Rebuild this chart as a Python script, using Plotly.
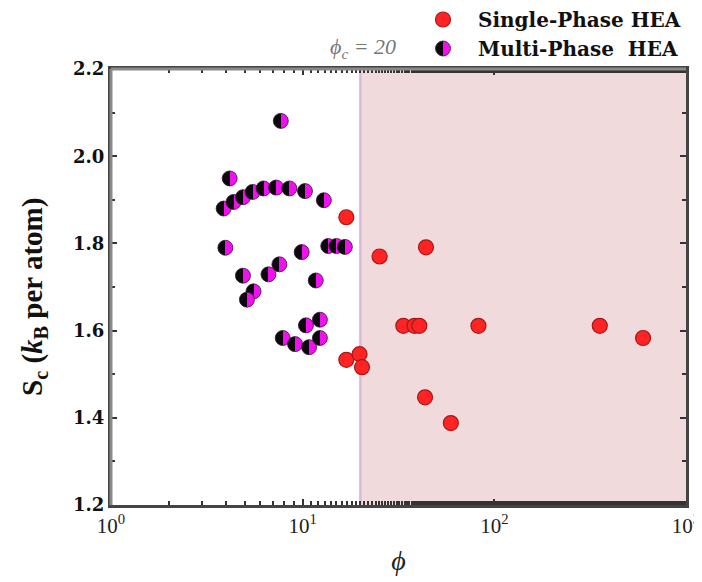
import plotly.graph_objects as go

# Multi-phase HEA
multi_phi = [7.69, 4.16, 3.87, 4.36, 4.88, 5.48, 6.25, 7.27, 8.52, 10.28, 12.9,
             3.95, 9.88, 13.6, 15.0, 16.6, 4.88, 7.56, 6.63, 11.7, 5.54, 5.12,
             12.3, 10.4, 7.87, 9.12, 10.8, 12.3]
multi_sc = [2.081, 1.949, 1.880, 1.895, 1.906, 1.918, 1.926, 1.928, 1.926, 1.920, 1.899,
            1.790, 1.780, 1.794, 1.794, 1.792, 1.726, 1.752, 1.729, 1.715, 1.690, 1.671,
            1.625, 1.612, 1.583, 1.569, 1.562, 1.583]

# Single-phase HEA
single_phi = [16.9, 16.9, 19.8, 20.4, 25.2, 44.0, 33.5, 38.3, 40.6, 82.6, 355, 597, 43.5, 59.3]
single_sc = [1.860, 1.533, 1.546, 1.516, 1.770, 1.791, 1.611, 1.611, 1.611, 1.611, 1.611,
             1.583, 1.447, 1.388]

phi_c = 20
x_tickvals = [1, 10, 100, 1000]
x_ticktext = ["10<sup>0</sup>", "10<sup>1</sup>", "10<sup>2</sup>", "10<sup>3</sup>"]
y_tickvals = [1.2, 1.4, 1.6, 1.8, 2.0, 2.2]
y_ticktext = ["<b>1.2</b>", "<b>1.4</b>", "<b>1.6</b>", "<b>1.8</b>", "<b>2.0</b>", "<b>2.2</b>"]

font_family = "Liberation Serif"
wide_family = "DejaVu Serif"

# page body has an 8px offset; figure is sized to fill the rest of the window
W, H = 694, 574
ML, MR, MT, MB = 103, 16, 61, 77
PW, PH = W - ML - MR, H - MT - MB


def px_x(px):
    return (px - 8 - ML) / PW


def px_y(py):
    return (H - MB - (py - 8)) / PH


fig = go.Figure()

fig.add_shape(type="rect", xref="x", yref="paper", x0=phi_c, x1=1000, y0=0, y1=1,
              fillcolor="#F0DADC", line=dict(width=0), layer="below")
fig.add_shape(type="line", xref="x", yref="paper", x0=phi_c, x1=phi_c, y0=0, y1=1,
              line=dict(color="#DDB8DD", width=2.5), layer="below")

fig.add_trace(go.Scatter(
    x=multi_phi, y=multi_sc, mode="markers", name="<b>Multi-Phase  HEA</b>",
    legendrank=2, legendgroup="m",
    marker=dict(size=15, color="#0A0A0A",
                gradient=dict(type="horizontal", color="#F010F0"),
                line=dict(color="#3a103a", width=0.8))))

fig.add_trace(go.Scatter(
    x=single_phi, y=single_sc, mode="markers", name="<b>Single-Phase HEA</b>",
    legendrank=1, legendgroup="s",
    marker=dict(size=15, color="#FF2424", line=dict(color="#A81818", width=1.2))))

fig.add_annotation(text="<i>ϕ<sub>c</sub> = 20</i>", xref="paper", yref="paper",
                   x=px_x(398), y=px_y(48), xanchor="right", yanchor="middle",
                   showarrow=False, font=dict(family=font_family, size=22, color="#777777"))

fig.add_annotation(text="<b>S<sub>c</sub> (<i>k</i><sub>B</sub> per atom)</b>",
                   xref="paper", yref="paper", x=px_x(34), y=px_y(297),
                   xanchor="center", yanchor="middle", textangle=-90, showarrow=False,
                   font=dict(family=font_family, size=29, color="#111"))

# frame: top/left gray
fig.add_shape(type="line", xref="paper", yref="paper", x0=0, x1=1, y0=1, y1=1,
              line=dict(color="#8A8A8A", width=3))
fig.add_shape(type="line", xref="paper", yref="paper", x0=0, x1=0, y0=0, y1=1,
              line=dict(color="#8A8A8A", width=3))

fig.update_layout(
    width=W, height=H,
    margin=dict(l=ML, r=MR, t=MT, b=MB, autoexpand=False),
    paper_bgcolor="white", plot_bgcolor="white",
    font=dict(family=font_family, color="#111111"),
    showlegend=True,
    legend=dict(x=px_x(408), xanchor="left", y=px_y(0), yanchor="top",
                font=dict(family=wide_family, size=20, color="#111111"),
                bgcolor="rgba(0,0,0,0)", itemwidth=60, tracegroupgap=0,
                traceorder="grouped"),
    xaxis=dict(type="log", range=[0, 3], tickvals=x_tickvals, ticktext=x_ticktext,
               ticks="inside", ticklen=6, tickwidth=2, tickcolor="#333",
               showline=True, linecolor="#444444", linewidth=3, mirror="ticks",
               showgrid=False, zeroline=False,
               minor=dict(ticks="inside", ticklen=4, tickwidth=1.5, tickcolor="#333",
                          showgrid=False),
               tickfont=dict(family=font_family, size=21, color="#222"),
               title=dict(text="<i>ϕ</i>", font=dict(family=font_family, size=28, color="#222"),
                          standoff=14)),
    yaxis=dict(range=[1.2, 2.2], tickvals=y_tickvals, ticktext=y_ticktext,
               ticks="inside", ticklen=6, tickwidth=2, tickcolor="#333",
               showline=True, linecolor="#444444", linewidth=3, mirror="ticks",
               showgrid=False, zeroline=False,
               minor=dict(dtick=0.1, ticks="inside", ticklen=4, tickwidth=1.5,
                          tickcolor="#333", showgrid=False),
               tickfont=dict(family=wide_family, size=18, color="#111")),
)

# make the two-colour marker gradient a sharp half/half split
post_js = """
(function(){
  function sharpen(){
    document.querySelectorAll('linearGradient').forEach(function(g){
      var stops = g.querySelectorAll('stop');
      if(stops.length === 2){
        stops[0].setAttribute('offset', '50%');
        stops[1].setAttribute('offset', '50%');
      }
    });
  }
  sharpen();
  var gd = document.getElementById('{plot_id}');
  if(gd && gd.on){ gd.on('plotly_afterplot', sharpen); }
})();
"""

fig.write_html("out.html", post_script=post_js)
